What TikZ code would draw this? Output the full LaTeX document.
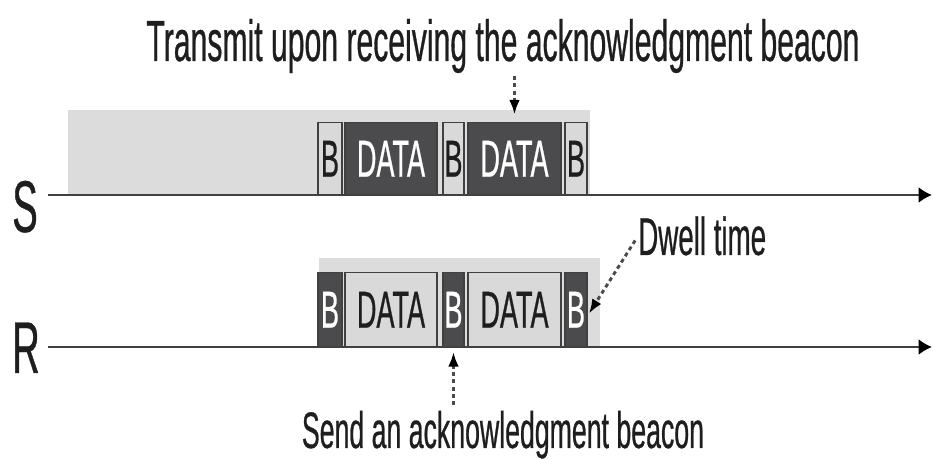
\documentclass[tikz,border=0pt]{standalone}
\usepackage{fontspec}
\setmainfont{Liberation Sans}[FakeStretch=0.52,FakeBold=0.5]
\usetikzlibrary{arrows.meta,calc}

\definecolor{bggray}{HTML}{DCDCDD}
\definecolor{boxdark}{HTML}{4B4B4D}
\definecolor{boxlight}{HTML}{D9D9DA}
\definecolor{ink}{HTML}{1E1E1E}

\tikzset{
  slot/.style={draw=ink!85,line width=1.3pt,inner sep=0pt,
    font=\fontsize{39}{39}\selectfont},
  lbox/.style={slot,fill=boxlight,text=ink},
  dbox/.style={slot,fill=boxdark,text=white},
  axis/.style={draw=ink!85,line width=1.9pt,-{Latex[length=10pt,width=12pt,color=black]}},
  callout/.style={draw=ink!80,line width=2.2pt,dash pattern=on 3pt off 2.5pt,
    -{Latex[length=11pt,width=8pt,color=black]}},
  note/.style={inner sep=0pt,text=ink},
}

\begin{document}
\begin{tikzpicture}[x=0.75pt,y=-0.75pt]
\useasboundingbox (0,0) rectangle (933,459);

% shaded busy periods
\fill[bggray] (68,110) rectangle (590,195);
\fill[bggray] (319,258) rectangle (600,347);

% slots of the sender
\foreach \a/\b/\txt/\sty/\nm in {
  318/342/B/lbox/sb1,
  345/437/DATA/dbox/sd1,
  443/464/B/lbox/sb2,
  468/561/DATA/dbox/sd2,
  565/587/B/lbox/sb3%
}{ \node[\sty,minimum width={(\b-\a)*0.75pt},minimum height=54.4pt]
     (\nm) at ({(\a+\b)/2},158.75) {\txt}; }

% slots of the receiver
\foreach \a/\b/\txt/\sty/\nm in {
  318/342/B/dbox/rb1,
  345/437/DATA/lbox/rd1,
  443/464/B/dbox/rb2,
  468/561/DATA/lbox/rd2,
  565/587/B/dbox/rb3%
}{ \node[\sty,minimum width={(\b-\a)*0.75pt},minimum height=55.9pt]
     (\nm) at ({(\a+\b)/2},309.75) {\txt}; }

% time lines
\node[note,anchor=base,font=\fontsize{55}{55}\selectfont] (slab) at (25,232) {S};
\node[note,anchor=base,font=\fontsize{55}{55}\selectfont] (rlab) at (26,373) {R};
\coordinate (s0) at (48,195);
\coordinate (s1) at (932,195);
\coordinate (r0) at (48,347);
\coordinate (r1) at (932,347);
\draw[axis] (s0) -- (s1);
\draw[axis] (r0) -- (r1);

% annotations
\node[note,anchor=base,font=\fontsize{43.5}{43.5}\selectfont] (tnote) at (503,61)
  {Transmit upon receiving the acknowledgment beacon};
\node[note,anchor=base,font=\fontsize{38.5}{38.5}\selectfont] (bnote) at (503,448)
  {Send an acknowledgment beacon};
\node[note,anchor=base west,font=\fontsize{40}{40}\selectfont] (dwell) at (638,255)
  {Dwell time};

\draw[callout,shorten <=2pt] (tnote.south -| sd2.north) -- ($(sd2.north)+(0,-7)$);
\draw[callout,shorten <=4pt] (bnote.north -| rb2.south) -- ($(rb2.south)+(0,4)$);
\draw[callout,shorten <=4pt] (dwell.west) -- ($(rb3.east)+(1,4)$);
\end{tikzpicture}
\end{document}
